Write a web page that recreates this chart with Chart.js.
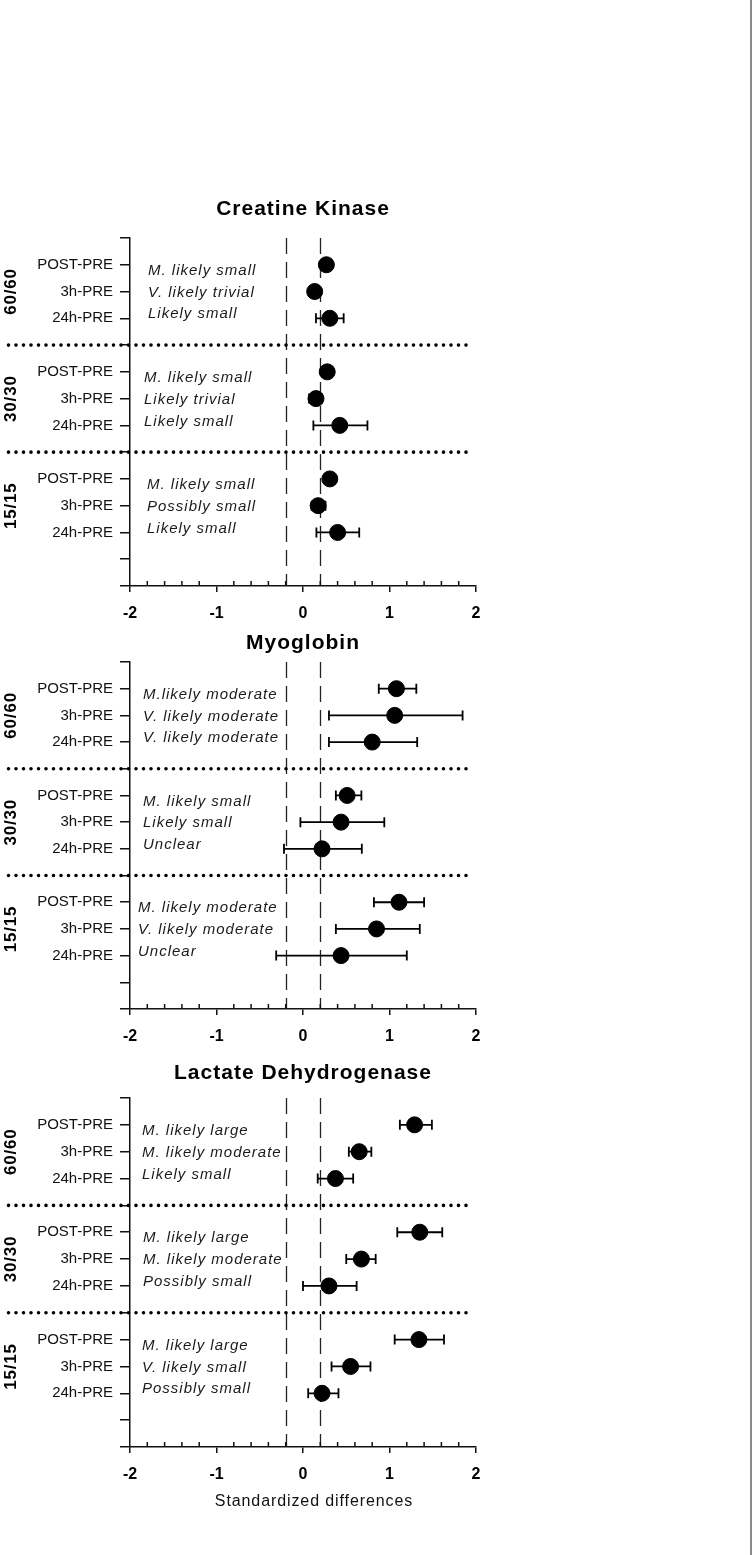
<!DOCTYPE html>
<html>
<head>
<meta charset="utf-8">
<script src="https://cdn.jsdelivr.net/npm/chart.js@4.4.0/dist/chart.umd.min.js"></script>
<style>
  html, body { margin: 0; padding: 0; background: #fff; }
  body { width: 752px; height: 1555px; position: relative; overflow: hidden; }
  .panel { position: absolute; left: 0; width: 752px; }
  #edge { position: absolute; left: 750px; top: 0; width: 2px; height: 1555px; background: #8c8c8c; }
</style>
</head>
<body>
<div class="panel" style="top:180px;height:450px"><canvas id="ckChart" width="752" height="450"></canvas></div>
<div class="panel" style="top:630px;height:425px"><canvas id="mbChart" width="752" height="425"></canvas></div>
<div class="panel" style="top:1055px;height:470px"><canvas id="ldhChart" width="752" height="470"></canvas></div>
<div id="edge"></div>
<script>
const GROUPS = ['60/60', '30/30', '15/15'];
const COMPARISONS = ['POST-PRE', '3h-PRE', '24h-PRE'];
const TRIVIAL_BAND = [-0.2, 0.2];
const X_TITLE = 'Standardized differences';

// Creatine Kinase
const ckMean  = [0.27, 0.135, 0.31, 0.28, 0.15, 0.425, 0.31, 0.175, 0.40];
const ckLower = [0.21, 0.09, 0.15, 0.22, 0.07, 0.12, 0.25, 0.10, 0.155];
const ckUpper = [0.33, 0.18, 0.47, 0.34, 0.22, 0.745, 0.37, 0.26, 0.65];
const ckInference = ['M. likely small', 'V. likely trivial', 'Likely small',
    'M. likely small', 'Likely trivial', 'Likely small',
    'M. likely small', 'Possibly small', 'Likely small'];

// Myoglobin
const mbMean  = [1.08, 1.06, 0.80, 0.51, 0.44, 0.22, 1.11, 0.85, 0.44];
const mbLower = [0.876, 0.30, 0.30, 0.38, -0.03, -0.22, 0.82, 0.38, -0.31];
const mbUpper = [1.31, 1.845, 1.32, 0.675, 0.94, 0.68, 1.40, 1.35, 1.20];
const mbInference = ['M.likely moderate', 'V. likely moderate', 'V. likely moderate',
    'M. likely small', 'Likely small', 'Unclear',
    'M. likely moderate', 'V. likely moderate', 'Unclear'];

// Lactate Dehydrogenase
const ldhMean  = [1.29, 0.65, 0.375, 1.35, 0.675, 0.30, 1.34, 0.55, 0.22];
const ldhLower = [1.12, 0.53, 0.17, 1.09, 0.50, 0.0, 1.06, 0.33, 0.06];
const ldhUpper = [1.49, 0.79, 0.58, 1.61, 0.84, 0.62, 1.63, 0.78, 0.41];
const ldhInference = ['M. likely large', 'M. likely moderate', 'Likely small',
    'M. likely large', 'M. likely moderate', 'Possibly small',
    'M. likely large', 'V. likely small', 'Possibly small'];

const FONT = "'Liberation Sans', Arial, sans-serif";
Chart.defaults.font.family = FONT;
Chart.defaults.color = '#111';

// row i (group g, comparison r) sits on the y scale at 12, 11, 10 / 8, 7, 6 / 4, 3, 2
function rowValue(i) {
    return 12 - Math.floor(i / 3) * 4 - (i % 3);
}

const forestPlot = {
    id: 'forestPlot',
    beforeDatasetsDraw(chart, args, opts) {
        const { ctx, chartArea: a, scales: { x, y } } = chart;
        ctx.save();

        // trivial thresholds
        ctx.strokeStyle = '#222';
        ctx.lineWidth = 1.3;
        ctx.setLineDash([16, 8]);
        TRIVIAL_BAND.forEach(v => {
            const px = Math.round(x.getPixelForValue(v)) + 0.5;
            ctx.beginPath();
            ctx.moveTo(px, a.top);
            ctx.lineTo(px, a.bottom);
            ctx.stroke();
        });

        // dotted group separators
        ctx.strokeStyle = '#000';
        ctx.lineWidth = 3.6;
        ctx.lineCap = 'round';
        ctx.setLineDash([0, 7.5]);
        [9, 5].forEach(v => {
            const py = y.getPixelForValue(v);
            ctx.beginPath();
            ctx.moveTo(8.5, py);
            ctx.lineTo(470, py);
            ctx.stroke();
        });

        // minor x ticks (inside)
        ctx.setLineDash([]);
        ctx.lineCap = 'butt';
        ctx.lineWidth = 1.5;
        ctx.strokeStyle = '#111';
        for (let k = -10; k <= 10; k++) {
            if (k % 5 === 0) continue;
            const px = x.getPixelForValue(k / 5);
            ctx.beginPath();
            ctx.moveTo(px, a.bottom);
            ctx.lineTo(px, a.bottom - 5);
            ctx.stroke();
        }

        // confidence limits
        ctx.strokeStyle = '#000';
        ctx.lineWidth = 1.8;
        opts.lower.forEach((lo, i) => {
            const py = y.getPixelForValue(rowValue(i));
            const x1 = x.getPixelForValue(lo);
            const x2 = x.getPixelForValue(opts.upper[i]);
            ctx.beginPath();
            ctx.moveTo(x1, py); ctx.lineTo(x2, py);
            ctx.moveTo(x1, py - 5); ctx.lineTo(x1, py + 5);
            ctx.moveTo(x2, py - 5); ctx.lineTo(x2, py + 5);
            ctx.stroke();
        });

        // qualitative inferences
        ctx.fillStyle = '#1a1a1a';
        ctx.font = 'italic 15px ' + FONT;
        ctx.letterSpacing = '1px';
        ctx.textAlign = 'left';
        ctx.textBaseline = 'middle';
        const shift = [6, 1, -4];
        opts.inference.forEach((t, i) => {
            ctx.fillText(t, opts.textX[Math.floor(i / 3)], y.getPixelForValue(rowValue(i)) + shift[i % 3]);
        });

        // group labels
        ctx.fillStyle = '#000';
        ctx.font = 'bold 17px ' + FONT;
        ctx.letterSpacing = '0.8px';
        ctx.textAlign = 'center';
        GROUPS.forEach((g, gi) => {
            ctx.save();
            ctx.translate(11, y.getPixelForValue(rowValue(gi * 3 + 1)));
            ctx.rotate(-Math.PI / 2);
            ctx.fillText(g, 0, 0);
            ctx.restore();
        });

        // panel title
        const cx = (a.left + a.right) / 2;
        ctx.font = 'bold 21px ' + FONT;
        ctx.letterSpacing = '1px';
        ctx.fillText(opts.title, cx, a.top - opts.titleGap);

        // x axis title
        if (opts.xTitle) {
            ctx.fillStyle = '#111';
            ctx.font = '16px ' + FONT;
            ctx.letterSpacing = '0.9px';
            ctx.fillText(opts.xTitle, cx + 11, a.bottom + 55);
        }
        ctx.restore();
    }
};

function makePanel(canvasId, title, mean, lower, upper, inference, p) {
    const data = mean.map((m, i) => ({ x: m, y: rowValue(i) }));
    new Chart(document.getElementById(canvasId), {
        type: 'scatter',
        data: {
            datasets: [{
                data: data,
                backgroundColor: '#000',
                borderColor: '#000',
                pointRadius: 8,
                pointHoverRadius: 8
            }]
        },
        options: {
            responsive: false,
            animation: false,
            devicePixelRatio: 1,
            layout: { padding: { left: 0, right: 752 - 476, top: p.top, bottom: 0 } },
            plugins: {
                legend: { display: false },
                tooltip: { enabled: false },
                title: { display: false },
                forestPlot: {
                    title: title,
                    titleGap: p.titleGap,
                    xTitle: p.xTitle,
                    lower: lower,
                    upper: upper,
                    inference: inference,
                    textX: p.textX
                }
            },
            scales: {
                x: {
                    type: 'linear',
                    min: -2,
                    max: 2,
                    afterFit: s => { s.height = p.xHeight; },
                    ticks: { stepSize: 1, padding: 12, color: '#000', font: { size: 16, weight: 'bold' } },
                    grid: { drawOnChartArea: false, tickLength: 6, color: '#111', lineWidth: 1.5 },
                    border: { color: '#111', width: 1.5 }
                },
                y: {
                    type: 'linear',
                    min: 0,
                    max: 13,
                    afterFit: s => { s.width = 130; },
                    ticks: {
                        stepSize: 1,
                        autoSkip: false,
                        padding: 7,
                        color: '#111',
                        font: { size: 15 },
                        callback: v => {
                            const i = mean.findIndex((m, k) => rowValue(k) === v);
                            return i >= 0 ? COMPARISONS[i % 3] : '';
                        }
                    },
                    grid: { drawOnChartArea: false, tickLength: 10, color: '#111', lineWidth: 1.5 },
                    border: { color: '#111', width: 1.5 }
                }
            }
        },
        plugins: [forestPlot]
    });
}

makePanel('ckChart', 'Creatine Kinase', ckMean, ckLower, ckUpper, ckInference,
    { top: 58, titleGap: 29, xHeight: 44, textX: [148, 144, 147] });
makePanel('mbChart', 'Myoglobin', mbMean, mbLower, mbUpper, mbInference,
    { top: 32, titleGap: 19, xHeight: 46, textX: [143, 143, 138] });
makePanel('ldhChart', 'Lactate Dehydrogenase', ldhMean, ldhLower, ldhUpper, ldhInference,
    { top: 43, titleGap: 25, xHeight: 78, textX: [142, 143, 142], xTitle: X_TITLE });
</script>
</body>
</html>
